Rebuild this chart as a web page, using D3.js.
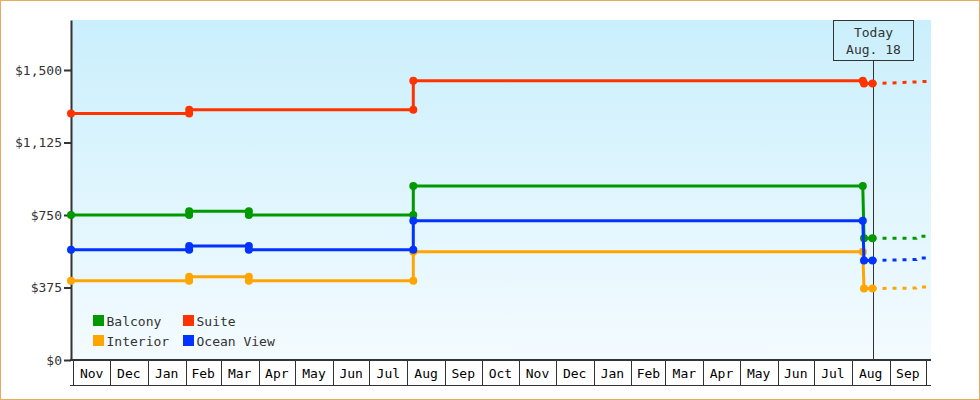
<!DOCTYPE html>
<html>
<head>
<meta charset="utf-8">
<script src="https://cdn.jsdelivr.net/npm/d3@7"></script>
<style>
  body { margin: 0; background: #fff; }
  svg { display: block; font-family: "DejaVu Sans Mono", monospace; }
</style>
</head>
<body>
<svg id="chart" width="980" height="400"></svg>
<script>
// price history
const suiteDates = ['2015-10-30', '2016-02-04', '2016-02-04', '2016-08-06', '2016-08-06', '2017-08-10', '2017-08-11', '2017-08-18'];
const suitePrices = [1275, 1275, 1295, 1295, 1445, 1445, 1430, 1430];

const stepDates = ['2015-10-30', '2016-02-04', '2016-02-04', '2016-03-24', '2016-03-24', '2016-08-06', '2016-08-06', '2017-08-10', '2017-08-11', '2017-08-18'];
const balconyPrices = [750, 750, 770, 770, 750, 750, 900, 900, 630, 630];
const oceanPrices = [570, 570, 590, 590, 570, 570, 720, 720, 515, 515];
const interiorPrices = [410, 410, 430, 430, 410, 410, 560, 560, 370, 370];

// forecast after today (dashed)
const suiteForecastDates = ['2017-08-18', '2017-09-08', '2017-10-05'];
const suiteForecast = [1430, 1434, 1442];
const forecastDates = ['2017-08-18', '2017-09-23', '2017-09-24', '2017-10-05'];
const balconyForecast = [630, 630, 640, 640];
const oceanForecast = [515, 520, 528, 528];
const interiorForecast = [370, 372, 378, 378];

const priceTicks = [0, 375, 750, 1125, 1500];
const todayLabel = ['Today', 'Aug. 18'];
const todayDate = '2017-08-18';

const parse = d3.timeParse('%Y-%m-%d');
const svg = d3.select('#chart');

const plotLeft = 71, plotRight = 931, plotTop = 20, plotBottom = 360;

const x = d3.scaleTime()
  .domain([parse('2015-10-30'), parse('2017-10-05')])
  .range([plotLeft, plotRight]);

const y = d3.scaleLinear()
  .domain([0, 1500 * 340 / 290])
  .range([plotBottom, plotTop]);

// frame
svg.append('rect')
  .attr('x', 0.5).attr('y', 0.5)
  .attr('width', 979).attr('height', 399)
  .attr('fill', '#fff')
  .attr('stroke', '#e9a963');

// plot background
const grad = svg.append('defs').append('linearGradient')
  .attr('id', 'bg').attr('x1', 0).attr('y1', 0).attr('x2', 0).attr('y2', 1);
grad.append('stop').attr('offset', '0%').attr('stop-color', '#caeffc');
grad.append('stop').attr('offset', '100%').attr('stop-color', '#f4fbff');

svg.append('rect')
  .attr('x', plotLeft).attr('y', plotTop)
  .attr('width', plotRight - plotLeft).attr('height', plotBottom - plotTop)
  .attr('fill', 'url(#bg)');

// month cells under the plot
const months = d3.timeMonth.range(parse('2015-11-01'), parse('2017-10-01'));
const cells = svg.append('g').attr('class', 'months');

cells.selectAll('line.div')
  .data(months.concat([parse('2017-10-01')]))
  .join('line')
  .attr('class', 'div')
  .attr('x1', d => Math.round(x(d)) + 0.5)
  .attr('x2', d => Math.round(x(d)) + 0.5)
  .attr('y1', plotBottom)
  .attr('y2', plotBottom + 25)
  .attr('stroke', '#333');

cells.selectAll('text')
  .data(months)
  .join('text')
  .attr('x', d => (x(d) + x(d3.timeMonth.offset(d, 1))) / 2)
  .attr('y', plotBottom + 13)
  .attr('dy', '0.35em')
  .attr('text-anchor', 'middle')
  .attr('font-size', '13px')
  .attr('fill', '#000')
  .text(d3.timeFormat('%b'));

svg.append('line')
  .attr('x1', plotLeft - 1).attr('x2', plotRight)
  .attr('y1', plotBottom + 25.5).attr('y2', plotBottom + 25.5)
  .attr('stroke', '#333');

svg.append('line')
  .attr('x1', plotLeft - 1).attr('x2', plotRight)
  .attr('y1', plotBottom).attr('y2', plotBottom)
  .attr('stroke', '#333')
  .attr('stroke-width', 2);

// y axis
const yAxis = svg.append('g')
  .attr('transform', `translate(${plotLeft},0)`)
  .call(d3.axisLeft(y)
    .tickValues(priceTicks)
    .tickSize(7)
    .tickSizeOuter(0)
    .tickPadding(2)
    .tickFormat(d => '$' + d3.format(',')(d)));

yAxis.select('.domain').attr('stroke', '#333').attr('stroke-width', 2);
yAxis.selectAll('.tick line').attr('stroke', '#333').attr('stroke-width', 2);
yAxis.selectAll('.tick text')
  .attr('font-family', '"DejaVu Sans Mono", monospace')
  .attr('font-size', '13px')
  .attr('fill', '#333');

// today marker
const tx = Math.round(x(parse(todayDate))) + 0.5;
svg.append('line')
  .attr('x1', tx).attr('x2', tx)
  .attr('y1', plotTop + 41).attr('y2', plotBottom)
  .attr('stroke', '#333');

svg.append('rect')
  .attr('x', tx - 40).attr('y', plotTop + 0.5)
  .attr('width', 80).attr('height', 40)
  .attr('fill', 'none')
  .attr('stroke', '#333');

svg.selectAll('text.today')
  .data(todayLabel)
  .join('text')
  .attr('class', 'today')
  .attr('x', tx)
  .attr('y', (d, i) => 36.5 + i * 17.5)
  .attr('text-anchor', 'middle')
  .attr('font-size', '13px')
  .attr('fill', '#333')
  .text(d => d);

// series
const series = [
  { name: 'Balcony', color: '#009900', dates: stepDates, prices: balconyPrices, fDates: forecastDates, fPrices: balconyForecast },
  { name: 'Suite', color: '#ff3300', dates: suiteDates, prices: suitePrices, fDates: suiteForecastDates, fPrices: suiteForecast },
  { name: 'Interior', color: '#ffa500', dates: stepDates, prices: interiorPrices, fDates: forecastDates, fPrices: interiorForecast },
  { name: 'Ocean View', color: '#0033ff', dates: stepDates, prices: oceanPrices, fDates: forecastDates, fPrices: oceanForecast }
];

const line = d3.line()
  .x(d => x(d.date))
  .y(d => y(d.value));

function points(dates, prices) {
  return dates.map((d, i) => ({ date: parse(d), value: prices[i] }));
}

series.forEach(s => {
  const hist = points(s.dates, s.prices);
  const fut = points(s.fDates, s.fPrices);
  const g = svg.append('g');

  g.append('path')
    .datum(fut)
    .attr('d', line)
    .attr('fill', 'none')
    .attr('stroke', s.color)
    .attr('stroke-width', 3)
    .attr('stroke-dasharray', '4,6');

  g.append('path')
    .datum(hist)
    .attr('d', line)
    .attr('fill', 'none')
    .attr('stroke', s.color)
    .attr('stroke-width', 3);

  g.selectAll('circle')
    .data(hist)
    .join('circle')
    .attr('cx', d => x(d.date))
    .attr('cy', d => y(d.value))
    .attr('r', 4)
    .attr('fill', s.color);
});

// legend
const legend = svg.append('g').attr('transform', 'translate(93,315)');
const item = legend.selectAll('g')
  .data(series)
  .join('g')
  .attr('transform', (d, i) => `translate(${(i % 2) * 90},${Math.floor(i / 2) * 20})`);

item.append('rect')
  .attr('width', 11).attr('height', 11)
  .attr('fill', d => d.color);

item.append('text')
  .attr('x', 13.5)
  .attr('y', 10.5)
  .attr('font-size', '13px')
  .attr('fill', '#333')
  .text(d => d.name);
</script>
</body>
</html>
